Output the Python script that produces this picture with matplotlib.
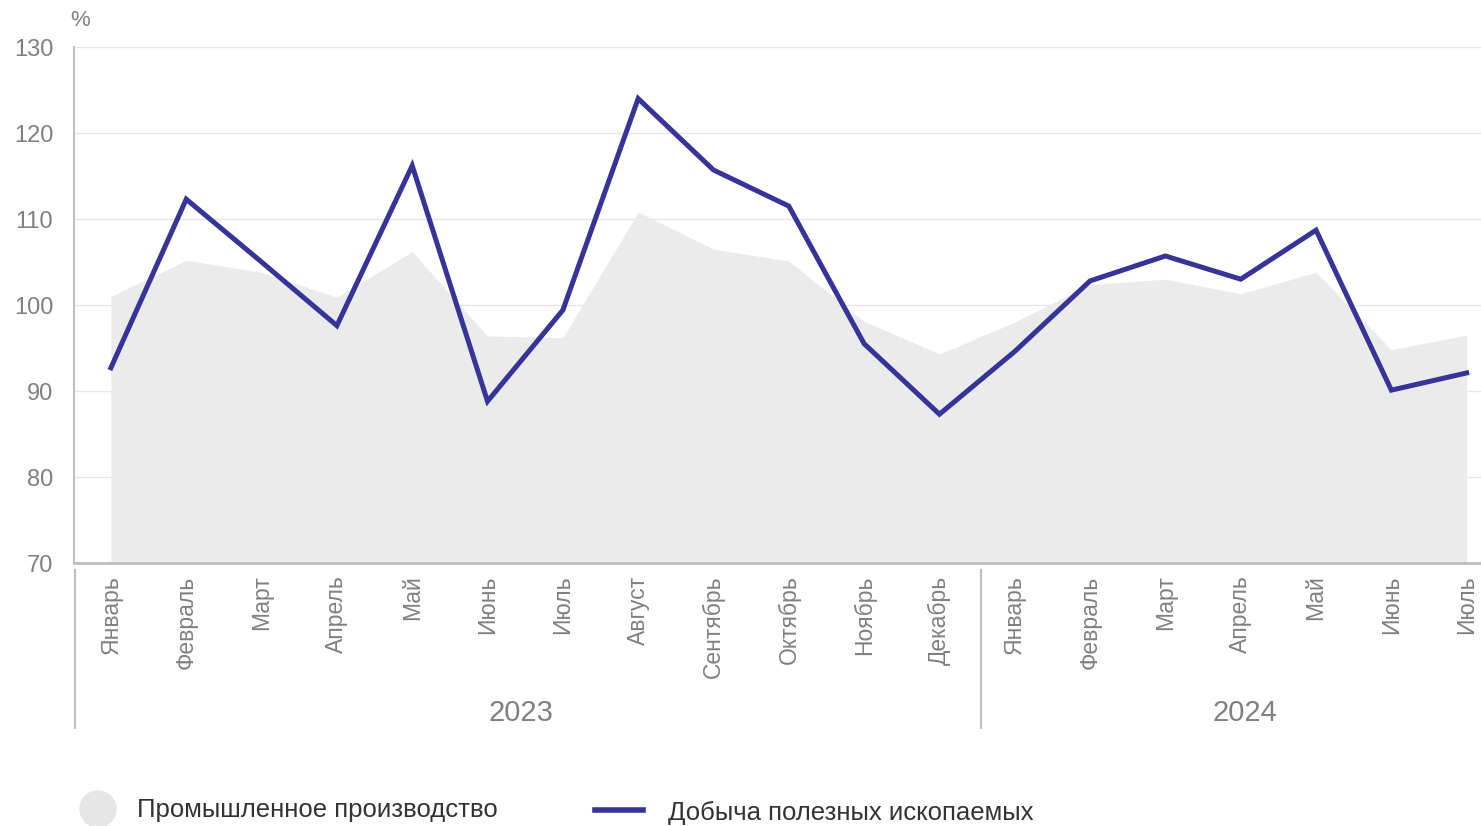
import numpy as np
import matplotlib.pyplot as plt
from matplotlib.lines import Line2D
from matplotlib.patches import Ellipse

plt.rcParams['font.family'] = ['Liberation Sans', 'DejaVu Sans']

# Datos
meses = ['Январь', 'Февраль', 'Март', 'Апрель', 'Май', 'Июнь', 'Июль', 'Август',
         'Сентябрь', 'Октябрь', 'Ноябрь', 'Декабрь',
         'Январь', 'Февраль', 'Март', 'Апрель', 'Май', 'Июнь', 'Июль']
anios = ['2023', '2024']
promyshlennoe = [101.0, 105.2, 103.8, 100.9, 106.2, 96.4, 96.2, 110.8, 106.5, 105.1,
                 98.1, 94.3, 98.0, 102.4, 103.0, 101.3, 103.8, 94.8, 96.5]
dobycha = [92.7, 112.3, 105.0, 97.6, 116.2, 88.8, 99.4, 124.0, 115.7, 111.5,
           95.5, 87.3, 94.6, 102.8, 105.7, 103.0, 108.7, 90.1, 92.1]

gris = '#808080'
azul = '#363399'
W, H = 1481, 826

fig = plt.figure(figsize=(W / 100, H / 100), dpi=100)
ax = fig.add_axes([74 / W, 1 - 563 / H, 1 - 74 / W, 516 / H])

x = np.arange(len(meses))
ax.fill_between(x, 70, promyshlennoe, color='#ebebeb', lw=0, zorder=1)
ax.plot(x, dobycha, color=azul, lw=3.6, solid_joinstyle='miter', zorder=3)

ax.set_ylim(70, 130)
ax.set_xlim(-0.49, 18.19)
ax.set_yticks(range(70, 131, 10))
ax.grid(axis='y', color='#e6e6e6', lw=1)
ax.set_axisbelow(True)
ax.tick_params(axis='y', length=0, pad=15, labelsize=17, labelcolor=gris)

ax.set_xticks(x)
ax.set_xticklabels(meses, rotation=90, va='top', ha='center')
ax.tick_params(axis='x', length=0, pad=9, labelsize=16.5, labelcolor=gris)

for s in ['top', 'right']:
    ax.spines[s].set_visible(False)
ax.spines['left'].set_color('#c0c0c0')
ax.spines['left'].set_linewidth(1.5)
ax.spines['bottom'].set_color('#bdbdbd')
ax.spines['bottom'].set_linewidth(2)

# Separadores de años
tr = ax.get_xaxis_transform()
for xs in [-0.48, 11.55]:
    ax.add_line(Line2D([xs, xs], [-0.013, -0.32], transform=tr, color='#c0c0c0',
                       lw=1.5, clip_on=False))
for xc, anio in zip([5.45, 15.05], anios):
    ax.text(xc, -0.29, anio, transform=tr, ha='center', va='center',
            fontsize=21, color=gris)

fig.text(80 / W, 1 - 21 / H, '%', fontsize=16, color=gris, va='center', ha='center')

# Leyenda
fig.add_artist(Ellipse((98 / W, 1 - 809 / H), 36 / W, 36 / H, transform=fig.transFigure,
                       color='#e6e6e6'))
fig.text(137 / W, 1 - 810 / H, 'Промышленное производство', fontsize=18.5,
         color='#333333', va='center')
fig.add_artist(Line2D([595 / W, 643 / W], [1 - 810 / H] * 2, color=azul, lw=4))
fig.text(668 / W, 1 - 813 / H, 'Добыча полезных ископаемых', fontsize=18.5,
         color='#333333', va='center')

fig.savefig('out.png', dpi=100)
